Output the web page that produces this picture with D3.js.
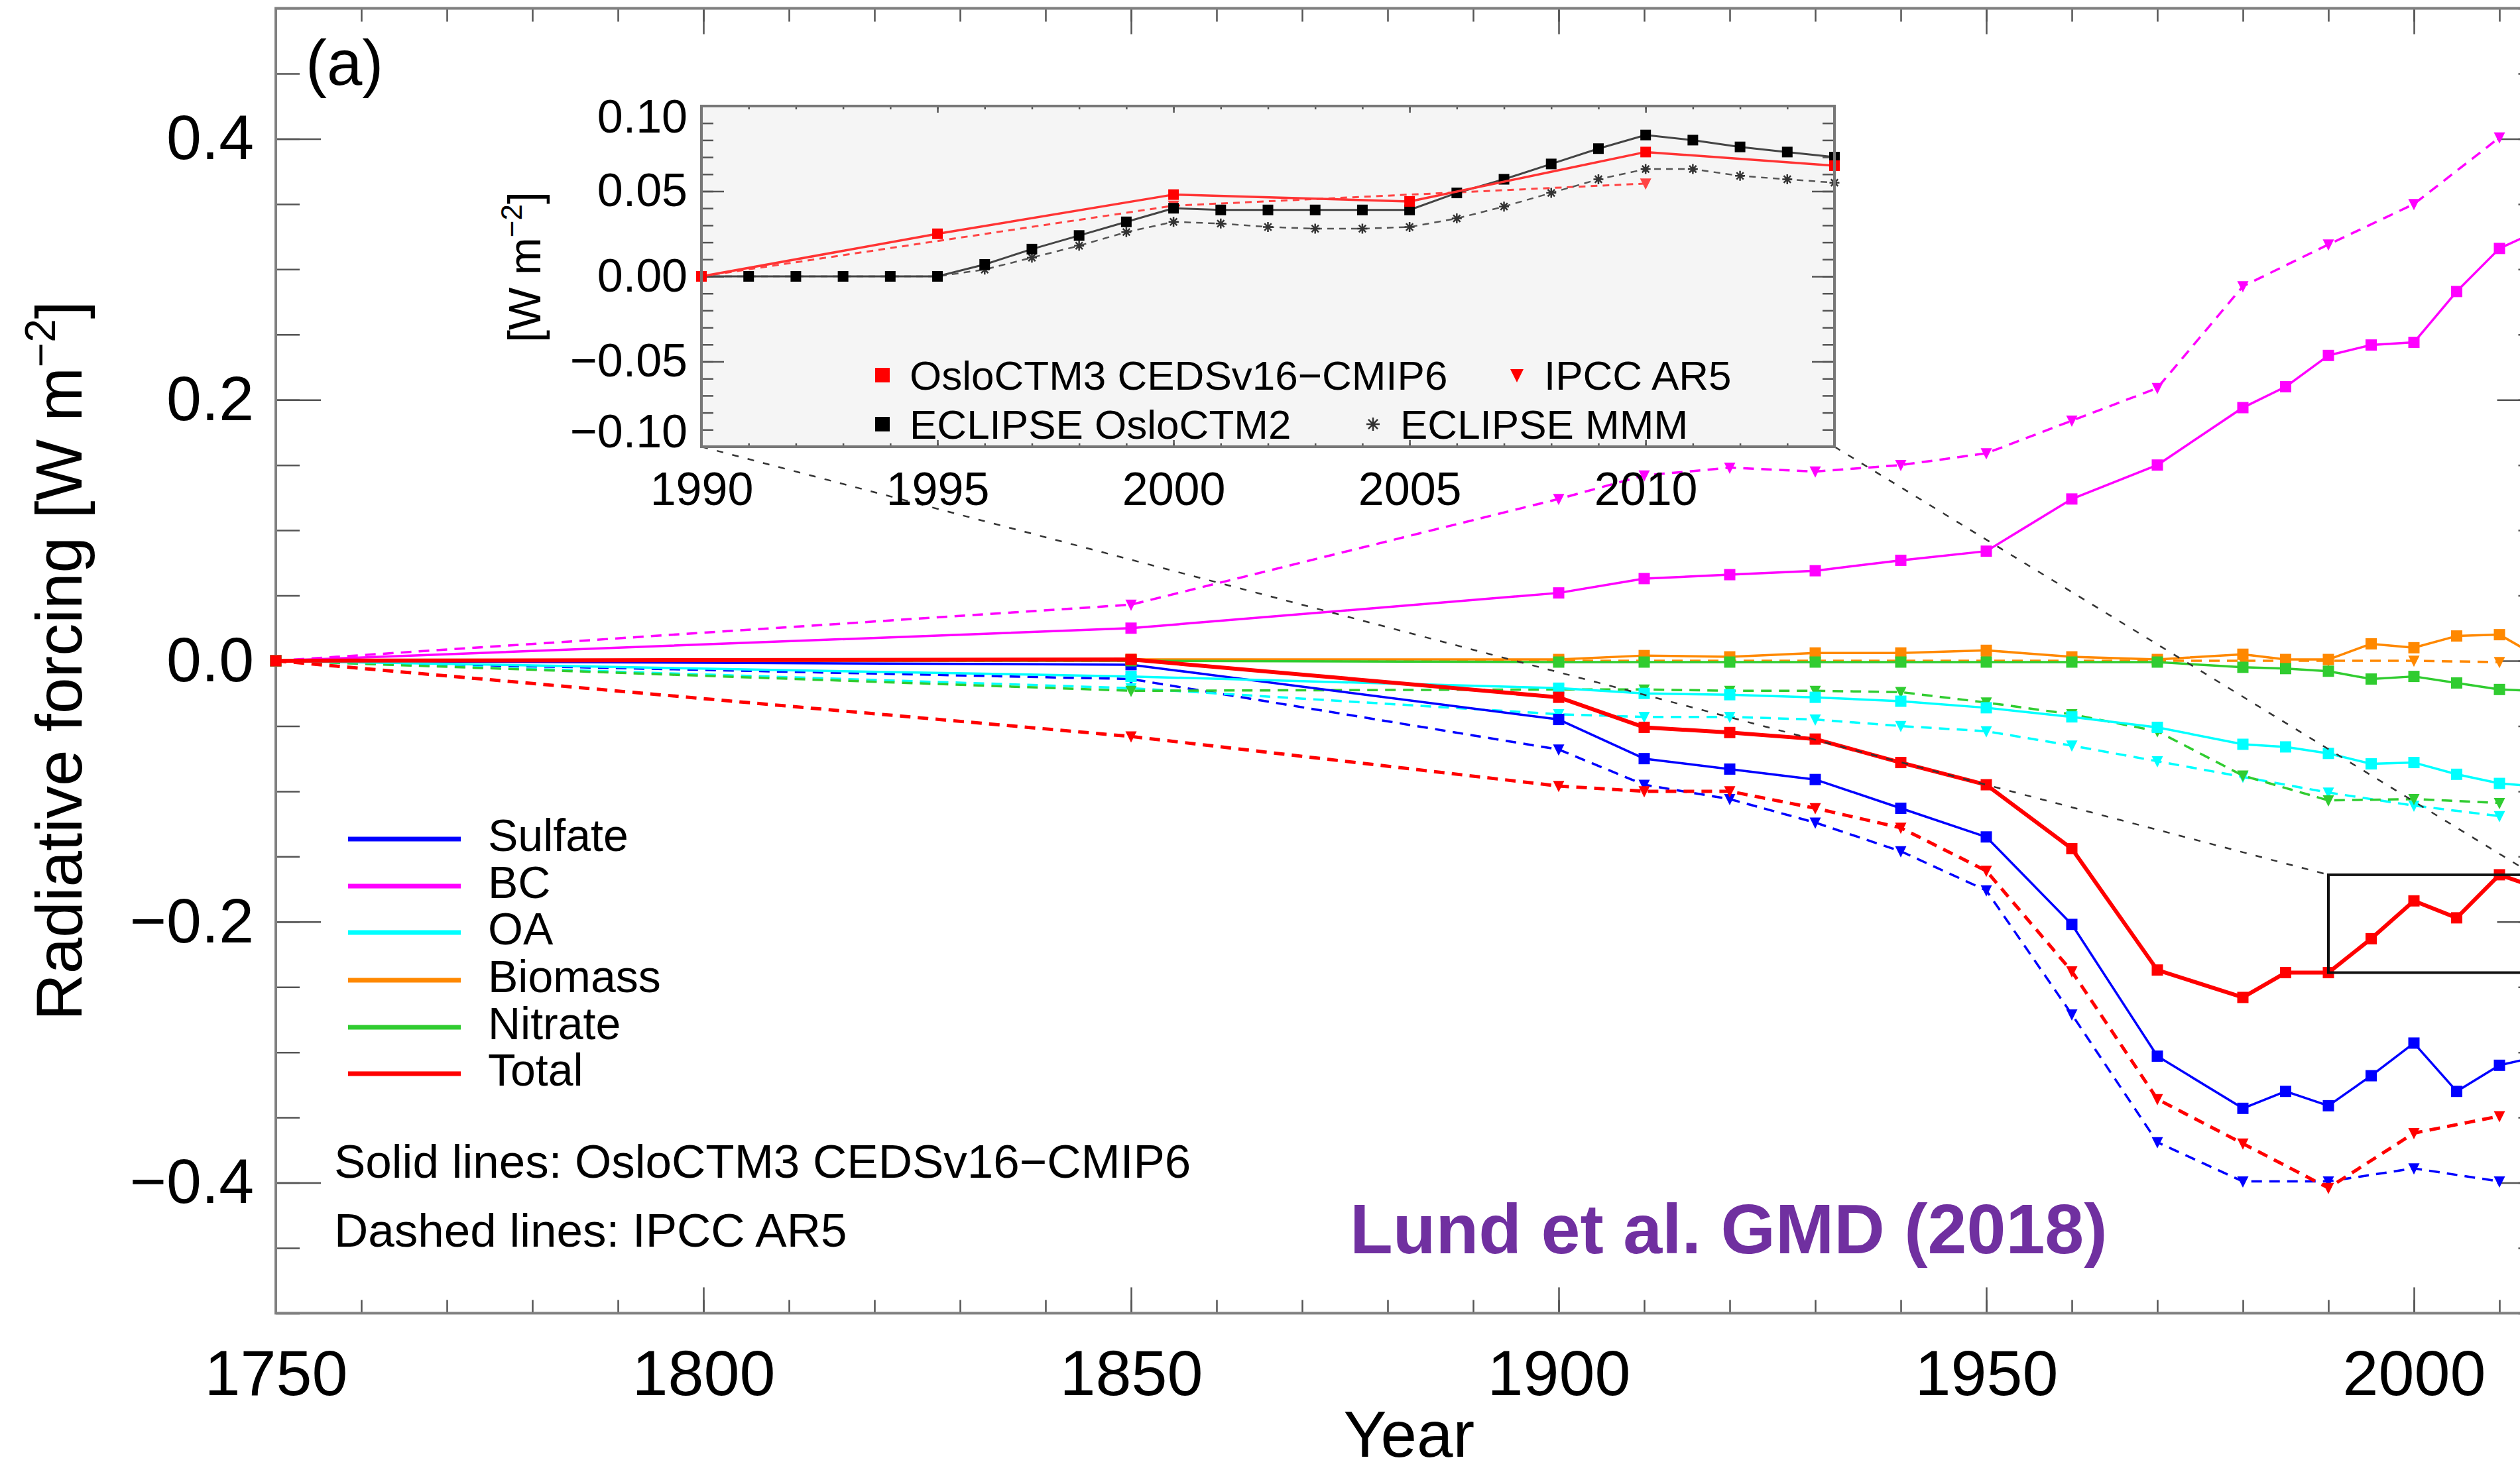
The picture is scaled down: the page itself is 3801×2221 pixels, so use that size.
<!DOCTYPE html>
<html>
<head>
<meta charset="utf-8">
<script src="https://cdn.jsdelivr.net/npm/d3@7"></script>
<style>
  body { margin: 0; background: #fff; }
  svg { display: block; }
  text { font-family: "Liberation Sans", Arial, Helvetica, sans-serif; }
</style>
</head>
<body>
<div class="canvas"></div>
<script>
// ---- data ----
const cedsYears = [1750, 1850, 1900, 1910, 1920, 1930, 1940, 1950, 1960, 1970, 1980, 1985, 1990, 1995, 2000, 2005, 2010, 2014];
const ar5Years  = [1750, 1850, 1900, 1910, 1920, 1930, 1940, 1950, 1960, 1970, 1980, 1990, 2000, 2010];

const cedsSulfate = [0, -0.003, -0.045, -0.075, -0.083, -0.091, -0.113, -0.135, -0.202, -0.303, -0.343, -0.330, -0.341, -0.318, -0.293, -0.330, -0.310, -0.304];
const cedsBC      = [0, 0.025, 0.052, 0.063, 0.066, 0.069, 0.077, 0.084, 0.124, 0.150, 0.194, 0.210, 0.234, 0.242, 0.244, 0.283, 0.316, 0.328];
const cedsOA      = [0, -0.012, -0.021, -0.025, -0.026, -0.028, -0.031, -0.036, -0.043, -0.051, -0.064, -0.066, -0.071, -0.079, -0.078, -0.087, -0.094, -0.096];
const cedsBiomass = [0, 0.001, 0.001, 0.004, 0.003, 0.006, 0.006, 0.008, 0.003, 0.001, 0.005, 0.001, 0.001, 0.013, 0.010, 0.019, 0.020, 0.005];
const cedsNitrate = [0, 0, -0.001, -0.001, -0.001, -0.001, -0.001, -0.001, -0.001, -0.001, -0.005, -0.006, -0.008, -0.014, -0.012, -0.017, -0.022, -0.023];
const cedsTotal   = [0, 0.001, -0.028, -0.051, -0.055, -0.060, -0.078, -0.095, -0.144, -0.237, -0.258, -0.239, -0.239, -0.213, -0.184, -0.197, -0.164, -0.173];

const ar5Sulfate = [0, -0.014, -0.068, -0.095, -0.106, -0.124, -0.146, -0.176, -0.271, -0.369, -0.399, -0.399, -0.389, -0.399];
const ar5BC      = [0, 0.043, 0.124, 0.142, 0.148, 0.145, 0.150, 0.159, 0.184, 0.209, 0.287, 0.319, 0.350, 0.401];
const ar5OA      = [0, -0.021, -0.041, -0.043, -0.043, -0.045, -0.050, -0.054, -0.065, -0.077, -0.089, -0.101, -0.111, -0.119];
const ar5Biomass = [0, 0, 0, 0, 0, 0, 0, 0, 0, 0, 0, 0, 0, -0.001];
const ar5Nitrate = [0, -0.023, -0.022, -0.022, -0.023, -0.023, -0.024, -0.032, -0.041, -0.054, -0.088, -0.107, -0.106, -0.109];
const ar5Total   = [0, -0.058, -0.096, -0.100, -0.100, -0.113, -0.128, -0.161, -0.238, -0.336, -0.370, -0.404, -0.362, -0.349];

// inset: change relative to 1990
const insetCedsYears = [1990, 1995, 2000, 2005, 2010, 2014];
const insetCeds      = [0, 0.025, 0.048, 0.044, 0.073, 0.065];
const insetAr5Years  = [1990, 2000, 2010];
const insetAr5       = [0, 0.0415, 0.0545];
const eclipseYears   = [1990, 1991, 1992, 1993, 1994, 1995, 1996, 1997, 1998, 1999, 2000, 2001, 2002, 2003, 2004, 2005, 2006, 2007, 2008, 2009, 2010, 2011, 2012, 2013, 2014];
const eclipseOslo2   = [0, 0, 0, 0, 0, 0, 0.007, 0.016, 0.024, 0.032, 0.040, 0.039, 0.039, 0.039, 0.039, 0.039, 0.049, 0.057, 0.066, 0.075, 0.083, 0.080, 0.076, 0.073, 0.070];
const eclipseMMM     = [0, 0, 0, 0, 0, 0, 0.004, 0.011, 0.018, 0.026, 0.032, 0.031, 0.029, 0.028, 0.028, 0.029, 0.034, 0.041, 0.049, 0.057, 0.063, 0.063, 0.059, 0.057, 0.055];

const species = ['Sulfate', 'BC', 'OA', 'Biomass', 'Nitrate', 'Total'];
const colors  = ['#0000ff', '#ff00ff', '#00ffff', '#ff8800', '#30cc30', '#ff0000'];
const cedsSeries = [cedsSulfate, cedsBC, cedsOA, cedsBiomass, cedsNitrate, cedsTotal];
const ar5Series  = [ar5Sulfate, ar5BC, ar5OA, ar5Biomass, ar5Nitrate, ar5Total];

const xTickLabels = [1750, 1800, 1850, 1900, 1950, 2000];
const yTickLabels = [-0.4, -0.2, 0.0, 0.2, 0.4];
const insetXTickLabels = [1990, 1995, 2000, 2005, 2010];
const insetYTickLabels = [-0.10, -0.05, 0.00, 0.05, 0.10];

// ---- svg ----
const svg = d3.select(".canvas")
  .append('svg')
  .attr('width', 3801)
  .attr('height', 2221);

const margin = {top: 12.6, left: 416};
const plotH = 1968.8;

const x = d3.scaleLinear().domain([1750, 2015]).range([margin.left, margin.left + 265 * 12.9]);
const y = d3.scaleLinear().domain([-0.5, 0.5]).range([margin.top + plotH, margin.top]);

const tickColor = '#555';
const frameColor = '#808080';

function styleAxis(g, size) {
  g.select('.domain').remove();
  g.attr('font-size', size)
    .attr('font-family', '"Liberation Sans", Arial, Helvetica, sans-serif')
    .attr('color', '#000');
  g.selectAll('.tick line').attr('stroke', tickColor).attr('stroke-width', 2.5);
}

// main axes: minor ticks
const xMinor = d3.range(1750, 2016, 10);
const yMinor = d3.range(-0.5, 0.501, 0.05);

svg.append('g').attr('transform', `translate(0,${y(-0.5)})`)
  .call(d3.axisBottom(x).tickValues(xMinor).tickSize(-20).tickFormat(''))
  .call(g => styleAxis(g, 10));
svg.append('g').attr('transform', `translate(0,${y(0.5)})`)
  .call(d3.axisTop(x).tickValues(xMinor).tickSize(-20).tickFormat(''))
  .call(g => styleAxis(g, 10));
svg.append('g').attr('transform', `translate(${x(1750)},0)`)
  .call(d3.axisLeft(y).tickValues(yMinor).tickSize(-36).tickFormat(''))
  .call(g => styleAxis(g, 10));
svg.append('g').attr('transform', `translate(${x(2015)},0)`)
  .call(d3.axisRight(y).tickValues(yMinor).tickSize(-36).tickFormat(''))
  .call(g => styleAxis(g, 10));

// main axes: major ticks + labels
svg.append('g').attr('transform', `translate(0,${y(-0.5)})`)
  .call(d3.axisBottom(x).tickValues(xTickLabels).tickSize(-39).tickPadding(55).tickFormat(d3.format('d')))
  .call(g => styleAxis(g, 97));
svg.append('g').attr('transform', `translate(0,${y(0.5)})`)
  .call(d3.axisTop(x).tickValues(xTickLabels).tickSize(-39).tickFormat(''))
  .call(g => styleAxis(g, 10));
svg.append('g').attr('transform', `translate(${x(1750)},0)`)
  .call(d3.axisLeft(y).tickValues(yTickLabels).tickSize(-68).tickPadding(33).tickFormat(d3.format('.1f')))
  .call(g => styleAxis(g, 95));
svg.append('g').attr('transform', `translate(${x(2015)},0)`)
  .call(d3.axisRight(y).tickValues(yTickLabels).tickSize(-68).tickFormat(''))
  .call(g => styleAxis(g, 10));

svg.append('rect')
  .attr('x', x(1750)).attr('y', y(0.5))
  .attr('width', x(2015) - x(1750)).attr('height', y(-0.5) - y(0.5))
  .attr('fill', 'none').attr('stroke', frameColor).attr('stroke-width', 4);

// axis titles
svg.append('text')
  .attr('x', (x(1750) + x(2015)) / 2).attr('y', 2198)
  .attr('text-anchor', 'middle').attr('font-size', 98)
  .text('Year');

const yTitle = svg.append('text')
  .attr('transform', `translate(123,${(y(0.5) + y(-0.5)) / 2}) rotate(-90)`)
  .attr('text-anchor', 'middle').attr('font-size', 98);
yTitle.append('tspan').text('Radiative forcing [W m');
yTitle.append('tspan').attr('font-size', 64).attr('dy', -40).text('−2');
yTitle.append('tspan').attr('dy', 40).text(']');

svg.append('text').attr('x', 461).attr('y', 128).attr('font-size', 96).text('(a)');

// ---- marker helpers ----
function square(s) { return `M${-s/2},${-s/2}h${s}v${s}h${-s}Z`; }
function triDown(s) { return `M${-s/2},${-s*0.45}L${s/2},${-s*0.45}L0,${s*0.55}Z`; }
function asterisk(s) {
  const r = s / 2, d = r * 0.7071;
  return `M0,${-r}V${r}M${-d},${-d}L${d},${d}M${d},${-d}L${-d},${d}M${-r},0H${r}`;
}

function drawSeries(g, xs, ys, yrs, vals, o) {
  const pts = yrs.map((yr, i) => [yr, vals[i]]);
  const line = d3.line().x(d => xs(d[0])).y(d => ys(d[1]));
  g.append('path')
    .attr('d', line(pts))
    .attr('fill', 'none')
    .attr('stroke', o.color)
    .attr('stroke-width', o.width)
    .attr('stroke-dasharray', o.dash || null)
    .attr('stroke-linejoin', 'round');
  g.selectAll(null)
    .data(pts)
    .enter()
    .append('path')
    .attr('transform', d => `translate(${xs(d[0])},${ys(d[1])})`)
    .attr('d', o.marker)
    .attr('fill', o.stroked ? 'none' : o.markColor || o.color)
    .attr('stroke', o.stroked ? o.markColor || o.color : 'none')
    .attr('stroke-width', o.stroked ? 2.5 : 0);
}

// ---- main series ----
const dataG = svg.append('g');
species.forEach((s, i) => {
  drawSeries(dataG, x, y, ar5Years, ar5Series[i], {
    color: colors[i], width: s === 'Total' ? 5 : 3.5, dash: '16,11', marker: triDown(17)
  });
});
species.forEach((s, i) => {
  drawSeries(dataG, x, y, cedsYears, cedsSeries[i], {
    color: colors[i], width: s === 'Total' ? 6 : 3.5, marker: square(17)
  });
});

// zoom rectangle (total forcing over the inset period)
const rectRange = d3.extent(cedsYears.map((yr, i) => yr >= 1990 ? cedsTotal[i] : null).filter(v => v !== null));
svg.append('rect')
  .attr('x', x(1990)).attr('y', y(rectRange[1]))
  .attr('width', x(2014) - x(1990)).attr('height', y(rectRange[0]) - y(rectRange[1]))
  .attr('fill', 'none').attr('stroke', '#111').attr('stroke-width', 4);

// ---- inset ----
const ix = d3.scaleLinear().domain([1990, 2014]).range([1058, 2767]);
const iy = d3.scaleLinear().domain([-0.1, 0.1]).range([674, 160]);

// connectors from inset corners to the rectangle
[1990, 2014].forEach(yr => {
  svg.append('line')
    .attr('x1', ix(yr)).attr('y1', iy(-0.1))
    .attr('x2', x(yr)).attr('y2', y(rectRange[1]))
    .attr('stroke', '#333').attr('stroke-width', 2.5)
    .attr('stroke-dasharray', '10,14');
});

const inset = svg.append('g');
inset.append('rect')
  .attr('x', ix(1990)).attr('y', iy(0.1))
  .attr('width', ix(2014) - ix(1990)).attr('height', iy(-0.1) - iy(0.1))
  .attr('fill', '#f5f5f5');

const iXMinor = d3.range(1990, 2015, 1);
const iYMinor = d3.range(-0.1, 0.1001, 0.01);

inset.append('g').attr('transform', `translate(0,${iy(-0.1)})`)
  .call(d3.axisBottom(ix).tickValues(iXMinor).tickSize(-5).tickFormat(''))
  .call(g => styleAxis(g, 10));
inset.append('g').attr('transform', `translate(0,${iy(0.1)})`)
  .call(d3.axisTop(ix).tickValues(iXMinor).tickSize(-5).tickFormat(''))
  .call(g => styleAxis(g, 10));
inset.append('g').attr('transform', `translate(${ix(1990)},0)`)
  .call(d3.axisLeft(iy).tickValues(iYMinor).tickSize(-18).tickFormat(''))
  .call(g => styleAxis(g, 10));
inset.append('g').attr('transform', `translate(${ix(2014)},0)`)
  .call(d3.axisRight(iy).tickValues(iYMinor).tickSize(-18).tickFormat(''))
  .call(g => styleAxis(g, 10));

inset.append('g').attr('transform', `translate(0,${iy(-0.1)})`)
  .call(d3.axisBottom(ix).tickValues(insetXTickLabels).tickSize(-10).tickPadding(38).tickFormat(d3.format('d')))
  .call(g => styleAxis(g, 70));
inset.append('g').attr('transform', `translate(0,${iy(0.1)})`)
  .call(d3.axisTop(ix).tickValues(insetXTickLabels).tickSize(-10).tickFormat(''))
  .call(g => styleAxis(g, 10));
inset.append('g').attr('transform', `translate(${ix(1990)},0)`)
  .call(d3.axisLeft(iy).tickValues(insetYTickLabels).tickSize(-34).tickPadding(21).tickFormat(d3.format('.2f')))
  .call(g => styleAxis(g, 70))
  .call(g => g.selectAll('.tick text').attr('dy', d => d > 0.09 ? '0.56em' : d < -0.09 ? '0.0em' : '0.32em'));
inset.append('g').attr('transform', `translate(${ix(2014)},0)`)
  .call(d3.axisRight(iy).tickValues(insetYTickLabels).tickSize(-34).tickFormat(''))
  .call(g => styleAxis(g, 10));

drawSeries(inset, ix, iy, insetAr5Years, insetAr5, { color: '#ff4444', width: 3, dash: '10,8', marker: triDown(17) });
drawSeries(inset, ix, iy, eclipseYears, eclipseMMM, { color: '#555', width: 2.5, dash: '10,8', marker: asterisk(15), markColor: '#333', stroked: true });
drawSeries(inset, ix, iy, eclipseYears, eclipseOslo2, { color: '#444', width: 3, marker: square(16), markColor: '#000' });
drawSeries(inset, ix, iy, insetCedsYears, insetCeds, { color: '#ff3333', width: 3.5, marker: square(16), markColor: '#ff0000' });

inset.append('rect')
  .attr('x', ix(1990)).attr('y', iy(0.1))
  .attr('width', ix(2014) - ix(1990)).attr('height', iy(-0.1) - iy(0.1))
  .attr('fill', 'none').attr('stroke', '#777').attr('stroke-width', 4);

const iTitle = inset.append('text')
  .attr('transform', `translate(815,403) rotate(-90)`)
  .attr('text-anchor', 'middle').attr('font-size', 68);
iTitle.append('tspan').text('[W m');
iTitle.append('tspan').attr('font-size', 44).attr('dy', -28).text('−2');
iTitle.append('tspan').attr('dy', 28).text(']');

// inset legend
const insetLegend = [
  { label: 'OsloCTM3 CEDSv16−CMIP6', mx: 1331, my: 566, marker: square(22), color: '#ff0000', stroked: false },
  { label: 'IPCC AR5', mx: 2288, my: 566, marker: triDown(20), color: '#ff0000', stroked: false },
  { label: 'ECLIPSE OsloCTM2', mx: 1331, my: 640, marker: square(22), color: '#000', stroked: false },
  { label: 'ECLIPSE MMM', mx: 2071, my: 640, marker: asterisk(20), color: '#333', stroked: true }
];
insetLegend.forEach(d => {
  inset.append('path')
    .attr('transform', `translate(${d.mx},${d.my})`)
    .attr('d', d.marker)
    .attr('fill', d.stroked ? 'none' : d.color)
    .attr('stroke', d.stroked ? d.color : 'none')
    .attr('stroke-width', 2.5);
  inset.append('text')
    .attr('x', d.mx + 41).attr('y', d.my + 22)
    .attr('font-size', 62)
    .text(d.label);
});

// ---- main legend ----
const legendY = [1266, 1337, 1407, 1479, 1550, 1620];
species.forEach((s, i) => {
  svg.append('line')
    .attr('x1', 525).attr('x2', 695)
    .attr('y1', legendY[i]).attr('y2', legendY[i])
    .attr('stroke', colors[i]).attr('stroke-width', 7);
  svg.append('text')
    .attr('x', 736).attr('y', legendY[i] + 18)
    .attr('font-size', 68)
    .text(s);
});

svg.append('text').attr('x', 504).attr('y', 1777).attr('font-size', 71)
  .text('Solid lines: OsloCTM3 CEDSv16−CMIP6');
svg.append('text').attr('x', 504).attr('y', 1881).attr('font-size', 71)
  .text('Dashed lines: IPCC AR5');

svg.append('text').attr('x', 2036).attr('y', 1891)
  .attr('font-size', 106).attr('font-weight', 'bold').attr('fill', '#7030a0')
  .text('Lund et al. GMD (2018)');
</script>
</body>
</html>
